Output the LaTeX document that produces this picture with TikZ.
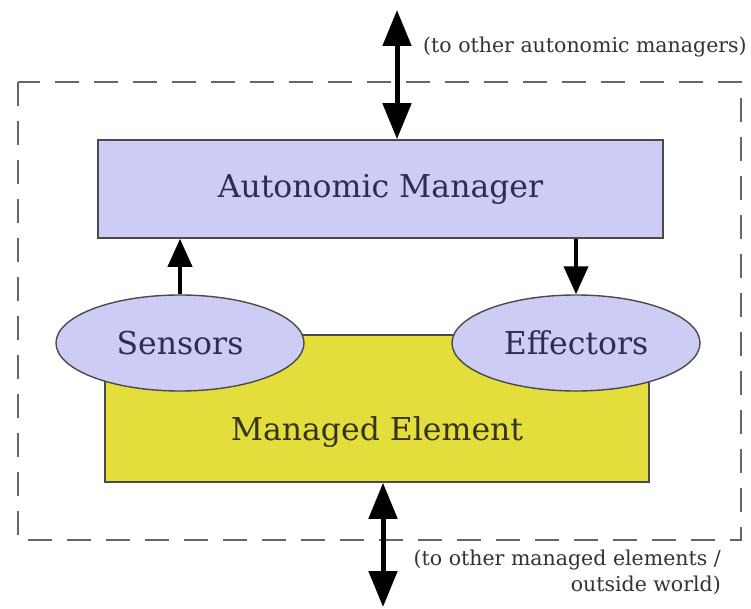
\documentclass[tikz,border=0pt]{standalone}
\usepackage{fontspec}
\setmainfont{DejaVu Serif}
\usetikzlibrary{arrows.meta,shapes.geometric}
\definecolor{lav}{HTML}{CCCCF4}
\definecolor{yel}{HTML}{E4DE3C}
\definecolor{edge}{HTML}{4A4A4A}
\definecolor{navy}{HTML}{2C2C58}
\definecolor{olive}{HTML}{35341A}
\tikzset{
  box/.style={draw=edge,line width=1.6pt,inner sep=0pt},
  oval/.style={ellipse,draw=edge,fill=lav,line width=1.4pt,inner sep=0pt,minimum width=248pt,minimum height=96pt,font=\fontsize{31.5}{34}\selectfont,text=navy},
  bigtxt/.style={font=\fontsize{31.5}{34}\selectfont},
  small/.style={font=\fontsize{20.5}{26}\selectfont,text=black!80,inner sep=0pt},
  biarrow/.style={line width=5pt,{Triangle[length=36pt,width=28pt]}-{Triangle[length=36pt,width=28pt]}},
  arr/.style={line width=4pt,-{Triangle[length=28pt,width=24pt]}},
  frame/.style={draw=black!60,line width=1.6pt,dash pattern=on 24pt off 15pt}
}
\begin{document}
\begin{tikzpicture}[x=1pt,y=-1pt]
\useasboundingbox (0,0) rectangle (751,609);
\fill[white] (0,0) rectangle (751,609);
% dashed frame
\draw[frame] (18,82) rectangle (741,540);
% managed element
\node[box,fill=yel,minimum width=544pt,minimum height=147pt] (me) at (377,408.5) {};
\node[bigtxt,text=olive] (metxt) at (377,432) {Managed Element};
% autonomic manager
\node[box,fill=lav,minimum width=565pt,minimum height=98pt,bigtxt,text=navy] (am) at (380.5,189) {Autonomic Manager};
% ellipses
\node[oval] (sens) at (180,343) {Sensors};
\node[oval] (eff) at (576,343) {Effectors};
% arrows
\draw[arr] (sens.north) -- (sens.north |- am.south);
\draw[arr] (eff.north |- am.south) -- (eff.north);
\coordinate (top) at (397,10);
\draw[biarrow] (top) -- (top |- am.north);
\coordinate (bot) at (383,607);
\draw[biarrow] (bot |- me.south) -- (bot);
% labels
\node[small,anchor=west] (tl) at (423,47) {(to other autonomic managers)};
\node[small,anchor=north east,align=right] (bl) at (721,550) {(to other managed elements /\\outside world)};
\end{tikzpicture}
\end{document}
